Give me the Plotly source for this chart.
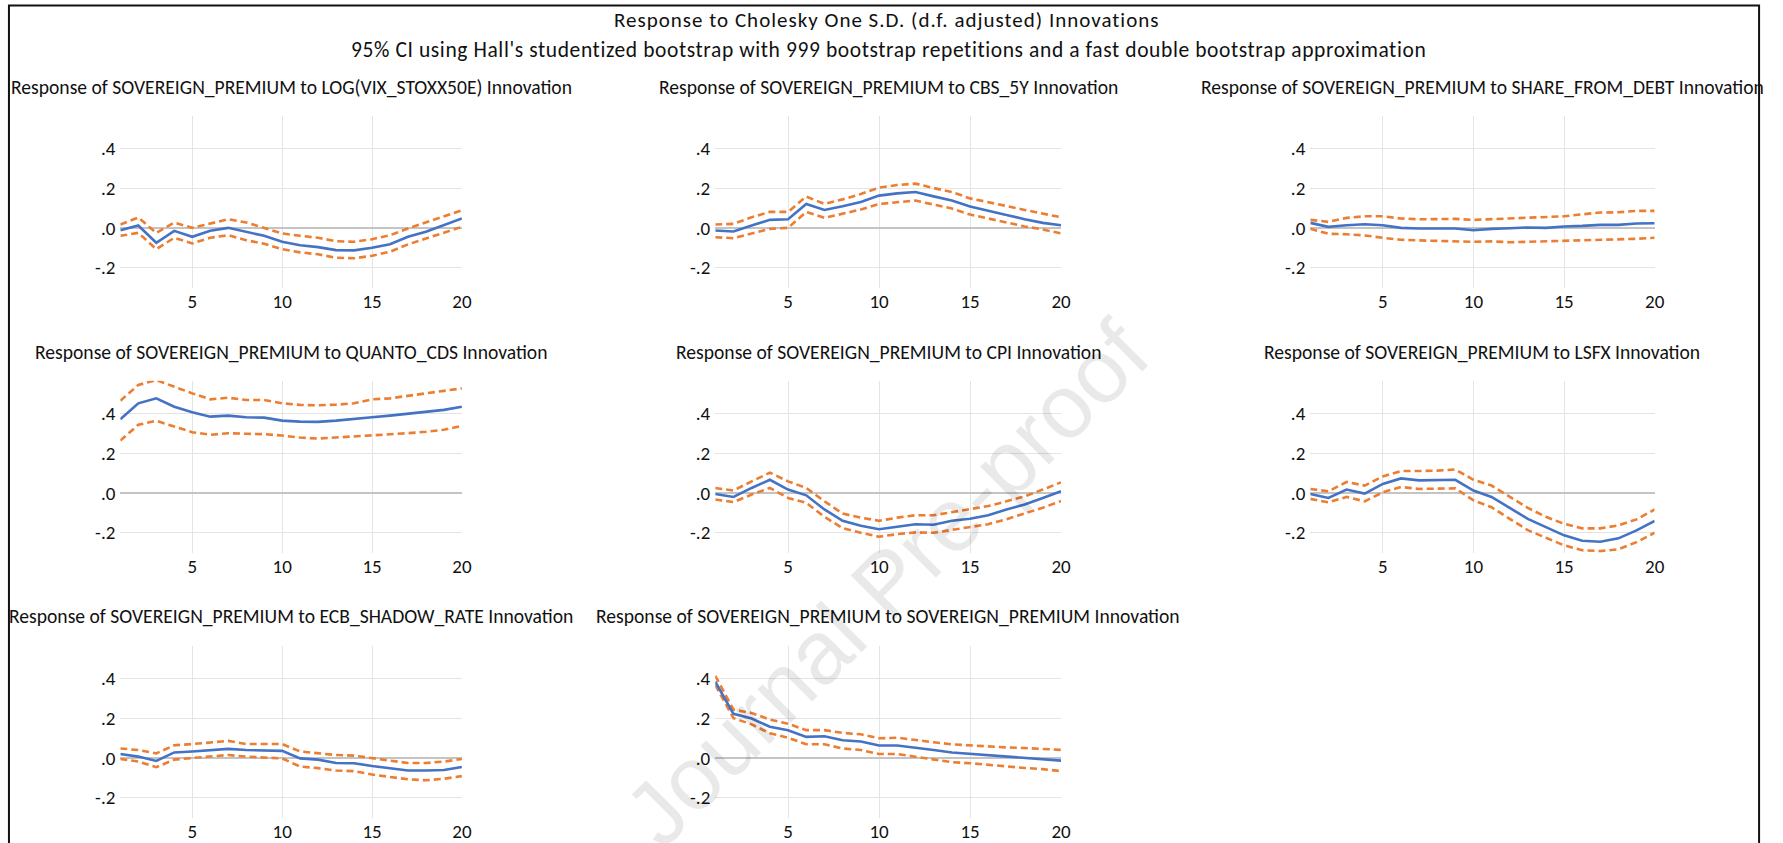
import plotly.graph_objects as go

# ---------------- data ----------------
periods = list(range(1, 21))

panel_titles = [
    "Response of SOVEREIGN_PREMIUM to LOG(VIX_STOXX50E) Innovation",
    "Response of SOVEREIGN_PREMIUM to CBS_5Y Innovation",
    "Response of SOVEREIGN_PREMIUM to SHARE_FROM_DEBT Innovation",
    "Response of SOVEREIGN_PREMIUM to QUANTO_CDS Innovation",
    "Response of SOVEREIGN_PREMIUM to CPI Innovation",
    "Response of SOVEREIGN_PREMIUM to LSFX Innovation",
    "Response of SOVEREIGN_PREMIUM to ECB_SHADOW_RATE Innovation",
    "Response of SOVEREIGN_PREMIUM to SOVEREIGN_PREMIUM Innovation",
]

vix_resp = [-0.012, 0.012, -0.075, -0.015, -0.045, -0.015, 0.0, -0.02, -0.04, -0.07,
            -0.087, -0.097, -0.112, -0.113, -0.10, -0.082, -0.045, -0.02, 0.013, 0.047]
vix_upper = [0.017, 0.052, -0.025, 0.027, 0.0, 0.023, 0.043, 0.027, 0.0, -0.028,
             -0.04, -0.05, -0.067, -0.07, -0.057, -0.037, -0.003, 0.027, 0.055, 0.088]
vix_lower = [-0.04, -0.025, -0.107, -0.05, -0.078, -0.05, -0.037, -0.062, -0.08, -0.107,
             -0.123, -0.133, -0.15, -0.153, -0.14, -0.12, -0.083, -0.053, -0.023, 0.005]

cbs_resp = [-0.013, -0.018, 0.012, 0.04, 0.043, 0.12, 0.09, 0.108, 0.13, 0.162,
            0.173, 0.18, 0.158, 0.137, 0.107, 0.087, 0.065, 0.043, 0.025, 0.013]
cbs_upper = [0.017, 0.02, 0.053, 0.08, 0.08, 0.157, 0.12, 0.143, 0.17, 0.202,
             0.215, 0.222, 0.2, 0.18, 0.148, 0.13, 0.11, 0.09, 0.073, 0.053]
cbs_lower = [-0.047, -0.052, -0.028, -0.005, 0.0, 0.08, 0.05, 0.07, 0.092, 0.12,
             0.13, 0.137, 0.117, 0.097, 0.067, 0.047, 0.025, 0.007, -0.008, -0.028]

share_resp = [0.025, 0.005, 0.013, 0.018, 0.013, 0.0, -0.003, -0.003, -0.003, -0.012,
              -0.005, -0.002, 0.002, 0.0, 0.007, 0.01, 0.015, 0.015, 0.022, 0.023]
share_upper = [0.04, 0.03, 0.05, 0.058, 0.058, 0.047, 0.043, 0.045, 0.045, 0.04,
               0.043, 0.047, 0.05, 0.052, 0.058, 0.068, 0.077, 0.078, 0.085, 0.085]
share_lower = [-0.005, -0.03, -0.032, -0.038, -0.05, -0.06, -0.063, -0.066, -0.067, -0.07,
               -0.068, -0.072, -0.07, -0.068, -0.065, -0.062, -0.06, -0.058, -0.055, -0.05]

quanto_resp = [0.37, 0.45, 0.475, 0.433, 0.405, 0.383, 0.388, 0.38, 0.378, 0.363,
               0.358, 0.357, 0.363, 0.37, 0.38, 0.388, 0.397, 0.407, 0.417, 0.433]
quanto_upper = [0.463, 0.542, 0.567, 0.533, 0.5, 0.47, 0.478, 0.467, 0.467, 0.45,
                0.442, 0.44, 0.443, 0.45, 0.47, 0.475, 0.487, 0.5, 0.512, 0.525]
quanto_lower = [0.263, 0.342, 0.362, 0.333, 0.305, 0.292, 0.3, 0.297, 0.295, 0.288,
                0.278, 0.273, 0.278, 0.282, 0.29, 0.295, 0.3, 0.307, 0.317, 0.337]

cpi_resp = [-0.005, -0.02, 0.025, 0.066, 0.017, -0.012, -0.083, -0.14, -0.165, -0.182,
            -0.17, -0.157, -0.16, -0.14, -0.13, -0.112, -0.083, -0.058, -0.025, 0.008]
cpi_upper = [0.025, 0.012, 0.058, 0.102, 0.058, 0.025, -0.042, -0.104, -0.124, -0.14,
             -0.124, -0.112, -0.112, -0.096, -0.083, -0.066, -0.042, -0.017, 0.017, 0.053]
cpi_lower = [-0.033, -0.046, -0.008, 0.025, -0.025, -0.05, -0.12, -0.177, -0.2, -0.22,
             -0.207, -0.198, -0.2, -0.185, -0.173, -0.157, -0.132, -0.104, -0.074, -0.041]

lsfx_resp = [-0.005, -0.025, 0.017, -0.003, 0.045, 0.073, 0.063, 0.063, 0.066, 0.012,
             -0.02, -0.075, -0.13, -0.172, -0.213, -0.24, -0.245, -0.228, -0.188, -0.141]
lsfx_upper = [0.02, 0.008, 0.055, 0.037, 0.083, 0.11, 0.11, 0.112, 0.118, 0.066,
              0.037, -0.017, -0.075, -0.12, -0.155, -0.178, -0.178, -0.163, -0.133, -0.083]
lsfx_lower = [-0.03, -0.047, -0.02, -0.042, 0.003, 0.03, 0.02, 0.02, 0.023, -0.037,
              -0.072, -0.13, -0.187, -0.225, -0.263, -0.288, -0.292, -0.283, -0.247, -0.2]

ecb_resp = [0.02, 0.007, -0.015, 0.028, 0.033, 0.04, 0.046, 0.04, 0.038, 0.036,
            -0.002, -0.008, -0.025, -0.026, -0.04, -0.051, -0.063, -0.063, -0.06, -0.045]
ecb_upper = [0.048, 0.04, 0.023, 0.064, 0.07, 0.078, 0.086, 0.07, 0.07, 0.07,
             0.033, 0.025, 0.015, 0.012, -0.002, -0.013, -0.025, -0.025, -0.018, -0.005]
ecb_lower = [-0.005, -0.018, -0.046, -0.008, 0.0, 0.008, 0.015, 0.007, 0.003, -0.002,
             -0.043, -0.051, -0.063, -0.066, -0.083, -0.096, -0.107, -0.112, -0.104, -0.091]

sov_resp = [0.383, 0.222, 0.198, 0.157, 0.139, 0.106, 0.109, 0.089, 0.083, 0.063,
            0.063, 0.05, 0.04, 0.028, 0.021, 0.015, 0.008, 0.002, -0.005, -0.013]
sov_upper = [0.413, 0.243, 0.226, 0.193, 0.172, 0.14, 0.14, 0.126, 0.119, 0.099,
             0.102, 0.089, 0.079, 0.069, 0.063, 0.056, 0.053, 0.05, 0.045, 0.041]
sov_lower = [0.367, 0.2, 0.169, 0.124, 0.102, 0.069, 0.069, 0.048, 0.04, 0.02,
             0.02, 0.007, -0.005, -0.021, -0.026, -0.035, -0.043, -0.05, -0.056, -0.066]

x_ticks = [5, 10, 15, 20]
y_ticks = [-0.2, 0.0, 0.2, 0.4]
y_tick_labels = ["-.2", ".0", ".2", ".4"]

suptitle_1 = "Response to Cholesky One S.D. (d.f. adjusted) Innovations"
suptitle_2 = ("95% CI using Hall's studentized bootstrap with 999 bootstrap repetitions "
              "and a fast double bootstrap approximation")
watermark = "Journal Pre-proof"

# ---------------- layout helpers ----------------
W, H = 1783, 843
FONT = "Carlito, Lato, 'Open Sans', sans-serif"
BLUE = "#4472C4"
ORANGE = "#ED7D31"
GRID = "#E4E4E4"
ZERO = "#C4C4C4"
TXT = "#111111"


def px(v):
    return v / W


def py(v):
    return 1 - v / H


col_px = [(121, 464.5), (719.3, 1067.0), (1317.7, 1664.0)]
row_px = [(116.7, 290.0), (384.0, 557.3), (651.3, 824.6)]
title_y_px = [87.5, 354.5, 621.5]

panels = [
    (vix_resp, vix_upper, vix_lower),
    (cbs_resp, cbs_upper, cbs_lower),
    (share_resp, share_upper, share_lower),
    (quanto_resp, quanto_upper, quanto_lower),
    (cpi_resp, cpi_upper, cpi_lower),
    (lsfx_resp, lsfx_upper, lsfx_lower),
    (ecb_resp, ecb_upper, ecb_lower),
    (sov_resp, sov_upper, sov_lower),
]

fig = go.Figure()
annotations = []
layout_axes = {}

for i, (resp, up, lo) in enumerate(panels):
    r, c = divmod(i, 3)
    n = i + 1
    xa = "x" if n == 1 else f"x{n}"
    ya = "y" if n == 1 else f"y{n}"
    for band in (up, lo):
        fig.add_trace(go.Scatter(
            x=periods, y=band, mode="lines", xaxis=xa, yaxis=ya,
            line=dict(color=ORANGE, width=2.6, dash="7px,4px"),
            hoverinfo="skip", showlegend=False))
    fig.add_trace(go.Scatter(
        x=periods, y=resp, mode="lines", xaxis=xa, yaxis=ya,
        line=dict(color=BLUE, width=2.6), showlegend=False))

    x0, x1 = col_px[c]
    y0, y1 = row_px[r]
    xkey = "xaxis" if n == 1 else f"xaxis{n}"
    ykey = "yaxis" if n == 1 else f"yaxis{n}"
    layout_axes[xkey] = dict(
        domain=[px(x0), px(x1)], anchor=ya, range=[1, 20],
        tickmode="array", tickvals=x_ticks, ticks="",
        showgrid=True, gridcolor=GRID, gridwidth=1,
        zeroline=False, showline=False,
        tickfont=dict(family=FONT, size=19, color=TXT))
    layout_axes[ykey] = dict(
        domain=[py(y1), py(y0)], anchor=xa, range=[-0.30, 0.563],
        tickmode="array", tickvals=y_ticks, ticktext=y_tick_labels, ticks="",
        showgrid=True, gridcolor=GRID, gridwidth=1,
        zeroline=True, zerolinecolor=ZERO, zerolinewidth=2,
        showline=False, ticklabelstandoff=4,
        tickfont=dict(family=FONT, size=19, color=TXT))
    annotations.append(dict(
        text=panel_titles[i], xref="paper", yref="paper",
        x=px((x0 + x1) / 2), y=py(title_y_px[r]),
        xanchor="center", yanchor="middle", showarrow=False,
        font=dict(family=FONT, size=19.6, color=TXT)))

annotations.append(dict(
    text=f'<span style="letter-spacing:1px">{suptitle_1}</span>',
    xref="paper", yref="paper", x=px(892), y=py(20),
    xanchor="center", yanchor="middle", showarrow=False,
    font=dict(family=FONT, size=21, color=TXT)))
annotations.append(dict(
    text=f'<span style="letter-spacing:0.6px">{suptitle_2}</span>',
    xref="paper", yref="paper", x=px(894), y=py(50),
    xanchor="center", yanchor="middle", showarrow=False,
    font=dict(family=FONT, size=21.5, color=TXT)))
annotations.append(dict(
    text=watermark, xref="paper", yref="paper", x=px(892), y=py(588),
    xanchor="center", yanchor="middle", showarrow=False, textangle=-45,
    font=dict(family="Liberation Sans, Arial, sans-serif", size=90,
              color="rgba(0,0,0,0.085)")))

fig.update_layout(
    width=W, height=H,
    margin=dict(l=0, r=0, t=0, b=0),
    paper_bgcolor="white", plot_bgcolor="white",
    showlegend=False,
    hovermode=False,
    annotations=annotations,
    shapes=[dict(type="rect", xref="paper", yref="paper",
                 x0=px(9), x1=px(1769), y0=-0.02, y1=py(5.5),
                 line=dict(color="#111111", width=2), fillcolor="rgba(0,0,0,0)")],
    **layout_axes,
)

# remove the browser's default 8px page margin so the figure sits at the window corner
fig.write_html(
    "out.html",
    config={"displayModeBar": False, "staticPlot": True},
    post_script="document.body.style.margin='0px';document.body.style.overflow='hidden';",
)
